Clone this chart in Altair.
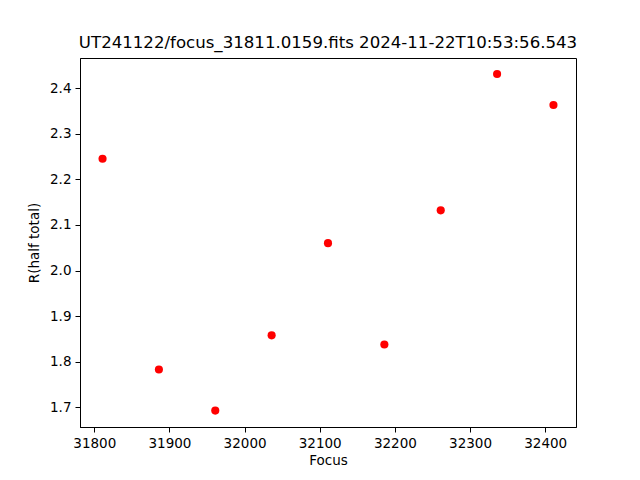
import altair as alt
import pandas as pd

focus = [31811, 31886, 31961, 32036, 32111, 32186, 32261, 32336, 32411]
r_half = [2.245, 1.783, 1.693, 1.858, 2.060, 1.838, 2.132, 2.431, 2.363]
x_ticks = [31800, 31900, 32000, 32100, 32200, 32300, 32400]
y_ticks = [1.7, 1.8, 1.9, 2.0, 2.1, 2.2, 2.3, 2.4]
title = "UT241122/focus_31811.0159.fits 2024-11-22T10:53:56.543"

df = pd.DataFrame({"Focus": focus, "R": r_half})

font = "DejaVu Sans"

chart = alt.Chart(df).mark_point(
    filled=True, color="red", opacity=1, size=66
).encode(
    x=alt.X("Focus:Q", scale=alt.Scale(domain=[31781, 32441], nice=False, zero=False),
            axis=alt.Axis(values=x_ticks, format="d", title="Focus", grid=False,
                          tickSize=5, labelPadding=4, titlePadding=4,
                          domainColor="black", tickColor="black",
                          labelColor="black", titleColor="black",
                          labelFont=font, titleFont=font, labelFontSize=13.5,
                          titleFontSize=13.5, titleFontWeight="normal")),
    y=alt.Y("R:Q", scale=alt.Scale(domain=[1.657, 2.466], nice=False, zero=False),
            axis=alt.Axis(values=y_ticks, format=".1f", title="R(half total)", grid=False,
                          tickSize=5, labelPadding=4, titlePadding=8,
                          domainColor="black", tickColor="black",
                          labelColor="black", titleColor="black",
                          labelFont=font, titleFont=font, labelFontSize=13.5,
                          titleFontSize=13.5, titleFontWeight="normal")),
).properties(
    width=496, height=369,
    title=alt.TitleParams(title, font=font, fontSize=16.6, fontWeight="normal",
                          color="black", anchor="middle", offset=6),
    autosize=alt.AutoSizeParams(type="none"),
    padding={"left": 72, "top": 50, "right": 56, "bottom": 45},
).configure(background="white").configure_view(stroke="black", strokeWidth=1)

chart.save("out.html", embed_options={"renderer": "svg", "actions": False})
